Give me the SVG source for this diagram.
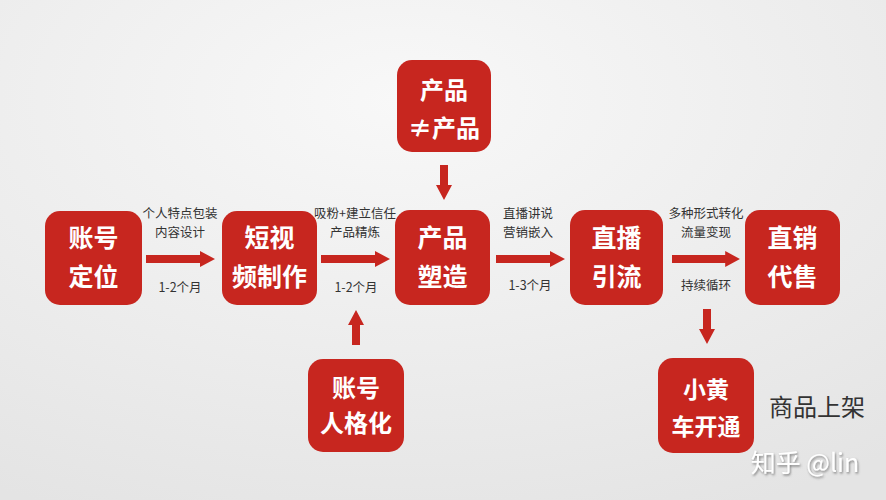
<svg xmlns="http://www.w3.org/2000/svg" width="886" height="500" viewBox="0 0 886 500">
<defs>
<radialGradient id="bg" cx="0.45" cy="0.2" r="0.9">
<stop offset="0" stop-color="#f8f8f8"/>
<stop offset="1" stop-color="#e4e4e4"/>
</radialGradient>
<path id="arr" d="M0,-4 L54,-4 L54,-8 L69,0 L54,8 L54,4 L0,4 Z"/>
<path id="arrS" d="M0,-4 L20,-4 L20,-8 L35,0 L20,8 L20,4 L0,4 Z"/>
<filter id="sh" x="-10%" y="-30%" width="120%" height="160%">
<feDropShadow dx="1" dy="1.5" stdDeviation="1" flood-color="#555" flood-opacity="0.7"/>
</filter>
</defs>
<style>
.node{fill:#c7261f;}
.nt{font-family:"Noto Sans CJK SC","Noto Sans",sans-serif;font-weight:700;fill:#fff;text-anchor:middle;}
.lb{font-family:"Noto Sans CJK SC","Noto Sans",sans-serif;font-size:12.5px;fill:#333;text-anchor:middle;}
.conn{fill:#c7261f;}
</style>
<rect width="886" height="500" fill="url(#bg)"/>
<g id="connectors">
<use class="conn" href="#arr" transform="translate(146,259)"/>
<use class="conn" href="#arr" transform="translate(321,259)"/>
<use class="conn" href="#arr" transform="translate(496,259)"/>
<use class="conn" href="#arr" transform="translate(672,259) scale(0.985,1)"/>
<use class="conn" href="#arrS" transform="translate(444,165) rotate(90)"/>
<use class="conn" href="#arrS" transform="translate(356,345) rotate(-90)"/>
<use class="conn" href="#arrS" transform="translate(707,309) rotate(90)"/>
<text class="lb" x="180" y="218">个人特点包装</text>
<text class="lb" x="180" y="237">内容设计</text>
<text class="lb" x="180" y="292">1-2个月</text>
<text class="lb" x="355" y="218">吸粉+建立信任</text>
<text class="lb" x="355" y="237">产品精炼</text>
<text class="lb" x="356" y="292">1-2个月</text>
<text class="lb" x="528" y="218">直播讲说</text>
<text class="lb" x="528" y="237">营销嵌入</text>
<text class="lb" x="530" y="290">1-3个月</text>
<text class="lb" x="706" y="218">多种形式转化</text>
<text class="lb" x="706" y="237">流量变现</text>
<text class="lb" x="706" y="290">持续循环</text>
</g>
<g id="n1"><rect class="node" x="45" y="211" width="97" height="94" rx="15"/>
<text class="nt" font-size="25" x="93.5" y="247">账号</text><text class="nt" font-size="25" x="93.5" y="286">定位</text></g>
<g id="n2"><rect class="node" x="222" y="211" width="95" height="94" rx="15"/>
<text class="nt" font-size="25" x="269.5" y="247">短视</text><text class="nt" font-size="25" x="269.5" y="286">频制作</text></g>
<g id="n3"><rect class="node" x="395" y="210" width="95" height="95" rx="15"/>
<text class="nt" font-size="25" x="442.5" y="247">产品</text><text class="nt" font-size="25" x="442.5" y="286">塑造</text></g>
<g id="n4"><rect class="node" x="570" y="210" width="93" height="95" rx="15"/>
<text class="nt" font-size="25" x="616.5" y="247">直播</text><text class="nt" font-size="25" x="616.5" y="286">引流</text></g>
<g id="n5"><rect class="node" x="745" y="210" width="95" height="95" rx="15"/>
<text class="nt" font-size="25" x="792.5" y="247">直销</text><text class="nt" font-size="25" x="792.5" y="286">代售</text></g>
<g id="n6"><rect class="node" x="397" y="60" width="94" height="92" rx="15"/>
<text class="nt" font-size="24" x="444" y="99">产品</text><text class="nt" font-size="24" x="444" y="137">≠产品</text></g>
<g id="n7"><rect class="node" x="308" y="359" width="96" height="93" rx="15"/>
<text class="nt" font-size="24" x="356" y="397">账号</text><text class="nt" font-size="24" x="356" y="432">人格化</text></g>
<g id="n8"><rect class="node" x="658" y="358" width="96" height="95" rx="15"/>
<text class="nt" font-size="23" x="706" y="398">小黄</text><text class="nt" font-size="23" x="706" y="435">车开通</text></g>
<text x="817" y="416" font-family="Noto Sans CJK SC,Noto Sans,sans-serif" font-size="24" fill="#333" text-anchor="middle">商品上架</text>
<text x="805" y="472" font-family="Noto Sans CJK SC,Noto Sans,sans-serif" font-size="25" fill="#fff" text-anchor="middle" filter="url(#sh)">知乎 @lin</text>
</svg>
